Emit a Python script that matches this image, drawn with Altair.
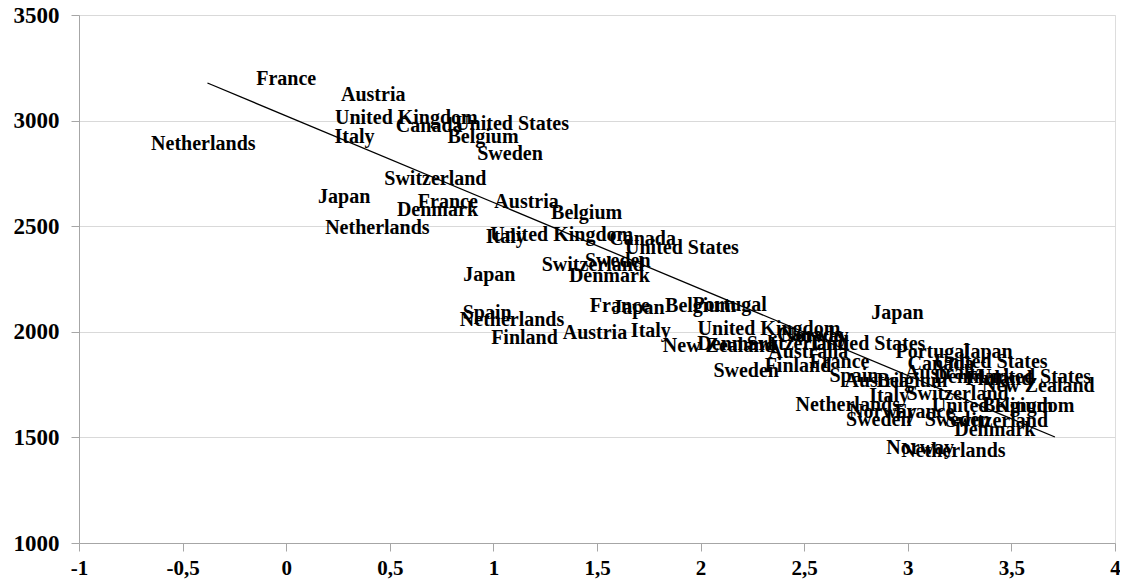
import altair as alt
import pandas as pd

# Country labels and their (x, y) positions
labels = [
    "France", "Austria", "United Kingdom", "Canada", "United States", "Italy", "Belgium",
    "Netherlands", "Sweden", "Switzerland", "Japan", "France", "Denmark", "Austria",
    "Belgium", "Netherlands", "United Kingdom", "Italy", "Canada", "United States",
    "Sweden", "Switzerland", "Denmark", "Japan", "France", "Japan", "Belgium", "Portugal",
    "Spain", "Netherlands", "Finland", "Austria", "Italy", "New Zealand", "Denmark",
    "United Kingdom", "Switzerland", "United States", "Australia", "Sweden", "Finland",
    "France", "Norway", "Canada", "Japan", "Portugal", "Japan", "Canada", "United States",
    "United States", "New Zealand", "Switzerland", "Italy", "United Kingdom", "Belgium",
    "Netherlands", "Sweden", "Switzerland", "Denmark", "Norway", "Netherlands", "Spain",
    "Austria", "Belgium", "Australia", "Denmark", "Finland", "Norway", "France", "Sweden",
]
x_vals = [
    0.00, 0.42, 0.58, 0.69, 1.09, 0.33, 0.95,
    -0.40, 1.08, 0.72, 0.28, 0.78, 0.73, 1.16,
    1.45, 0.44, 1.33, 1.06, 1.72, 1.91,
    1.60, 1.48, 1.56, 0.98, 1.61, 1.70, 2.00, 2.14,
    0.97, 1.09, 1.15, 1.49, 1.76, 2.09, 2.18,
    2.33, 2.47, 2.81, 2.52, 2.22, 2.47,
    2.67, 2.55, 2.53, 2.95, 3.12, 3.38, 3.16, 3.40,
    3.61, 3.63, 3.24, 2.91, 3.46, 3.53,
    2.71, 2.86, 3.43, 3.42, 3.06, 3.22, 2.74,
    2.85, 3.02, 3.18, 3.32, 3.44, 2.88, 3.08, 3.24,
]
y_vals = [
    3198, 3122, 3013, 2975, 2985, 2923, 2923,
    2890, 2843, 2725, 2640, 2616, 2578, 2616,
    2564, 2493, 2460, 2451, 2441, 2399,
    2337, 2314, 2262, 2267, 2120, 2115, 2120, 2129,
    2087, 2054, 1969, 1992, 2002, 1931, 1940,
    2011, 1940, 1940, 1903, 1813, 1836,
    1855, 1978, 1983, 2087, 1903, 1903, 1846, 1855,
    1784, 1742, 1704, 1695, 1647, 1647,
    1652, 1581, 1577, 1534, 1449, 1435, 1789,
    1766, 1766, 1803, 1784, 1775, 1619, 1619, 1581,
]

# Linear trend line end points
trend_x = [-0.38, 3.71]
trend_y = [3178, 1502]

x_ticks = [-1, -0.5, 0, 0.5, 1, 1.5, 2, 2.5, 3, 3.5, 4]
y_ticks = [1000, 1500, 2000, 2500, 3000, 3500]

pts = pd.DataFrame({"x": x_vals, "y": y_vals, "label": labels})
trend = pd.DataFrame({"x": trend_x, "y": trend_y})

FONT = "Liberation Serif"

xscale = alt.Scale(domain=[-1, 4], nice=False, zero=False)
yscale = alt.Scale(domain=[1000, 3500], nice=False, zero=False)

xaxis = alt.Axis(
    values=x_ticks, title=None, grid=False,
    labelExpr="replace(toString(datum.value), '.', ',')",
    labelFont=FONT, labelFontWeight="bold", labelFontSize=21, labelColor="black",
    domainColor="#a6a6a6", tickColor="#a6a6a6", tickSize=8, labelPadding=6,
    labelFlush=False,
)
yaxis = alt.Axis(
    values=y_ticks, title=None, grid=True, gridColor="#d9d9d9", format="d",
    labelFont=FONT, labelFontWeight="bold", labelFontSize=23, labelColor="black",
    domainColor="#a6a6a6", tickColor="#a6a6a6", tickSize=8, labelPadding=12,
    labelFlush=False,
)

text = alt.Chart(pts).mark_text(
    font=FONT, fontWeight="bold", fontSize=20, color="black",
    align="center", baseline="middle",
).encode(
    x=alt.X("x:Q", scale=xscale, axis=xaxis),
    y=alt.Y("y:Q", scale=yscale, axis=yaxis),
    text="label:N",
)

line = alt.Chart(trend).mark_line(color="black", strokeWidth=1.3).encode(
    x=alt.X("x:Q", scale=xscale),
    y=alt.Y("y:Q", scale=yscale),
)

chart = alt.layer(text, line).properties(
    width=1036, height=528,
    autosize=alt.AutoSizeParams(type="none"),
    padding={"left": 71, "top": 7, "right": 5, "bottom": 36},
).configure_view(stroke=None).configure(background="white")

chart.save("out.html", embed_options={"renderer": "svg", "actions": False})
